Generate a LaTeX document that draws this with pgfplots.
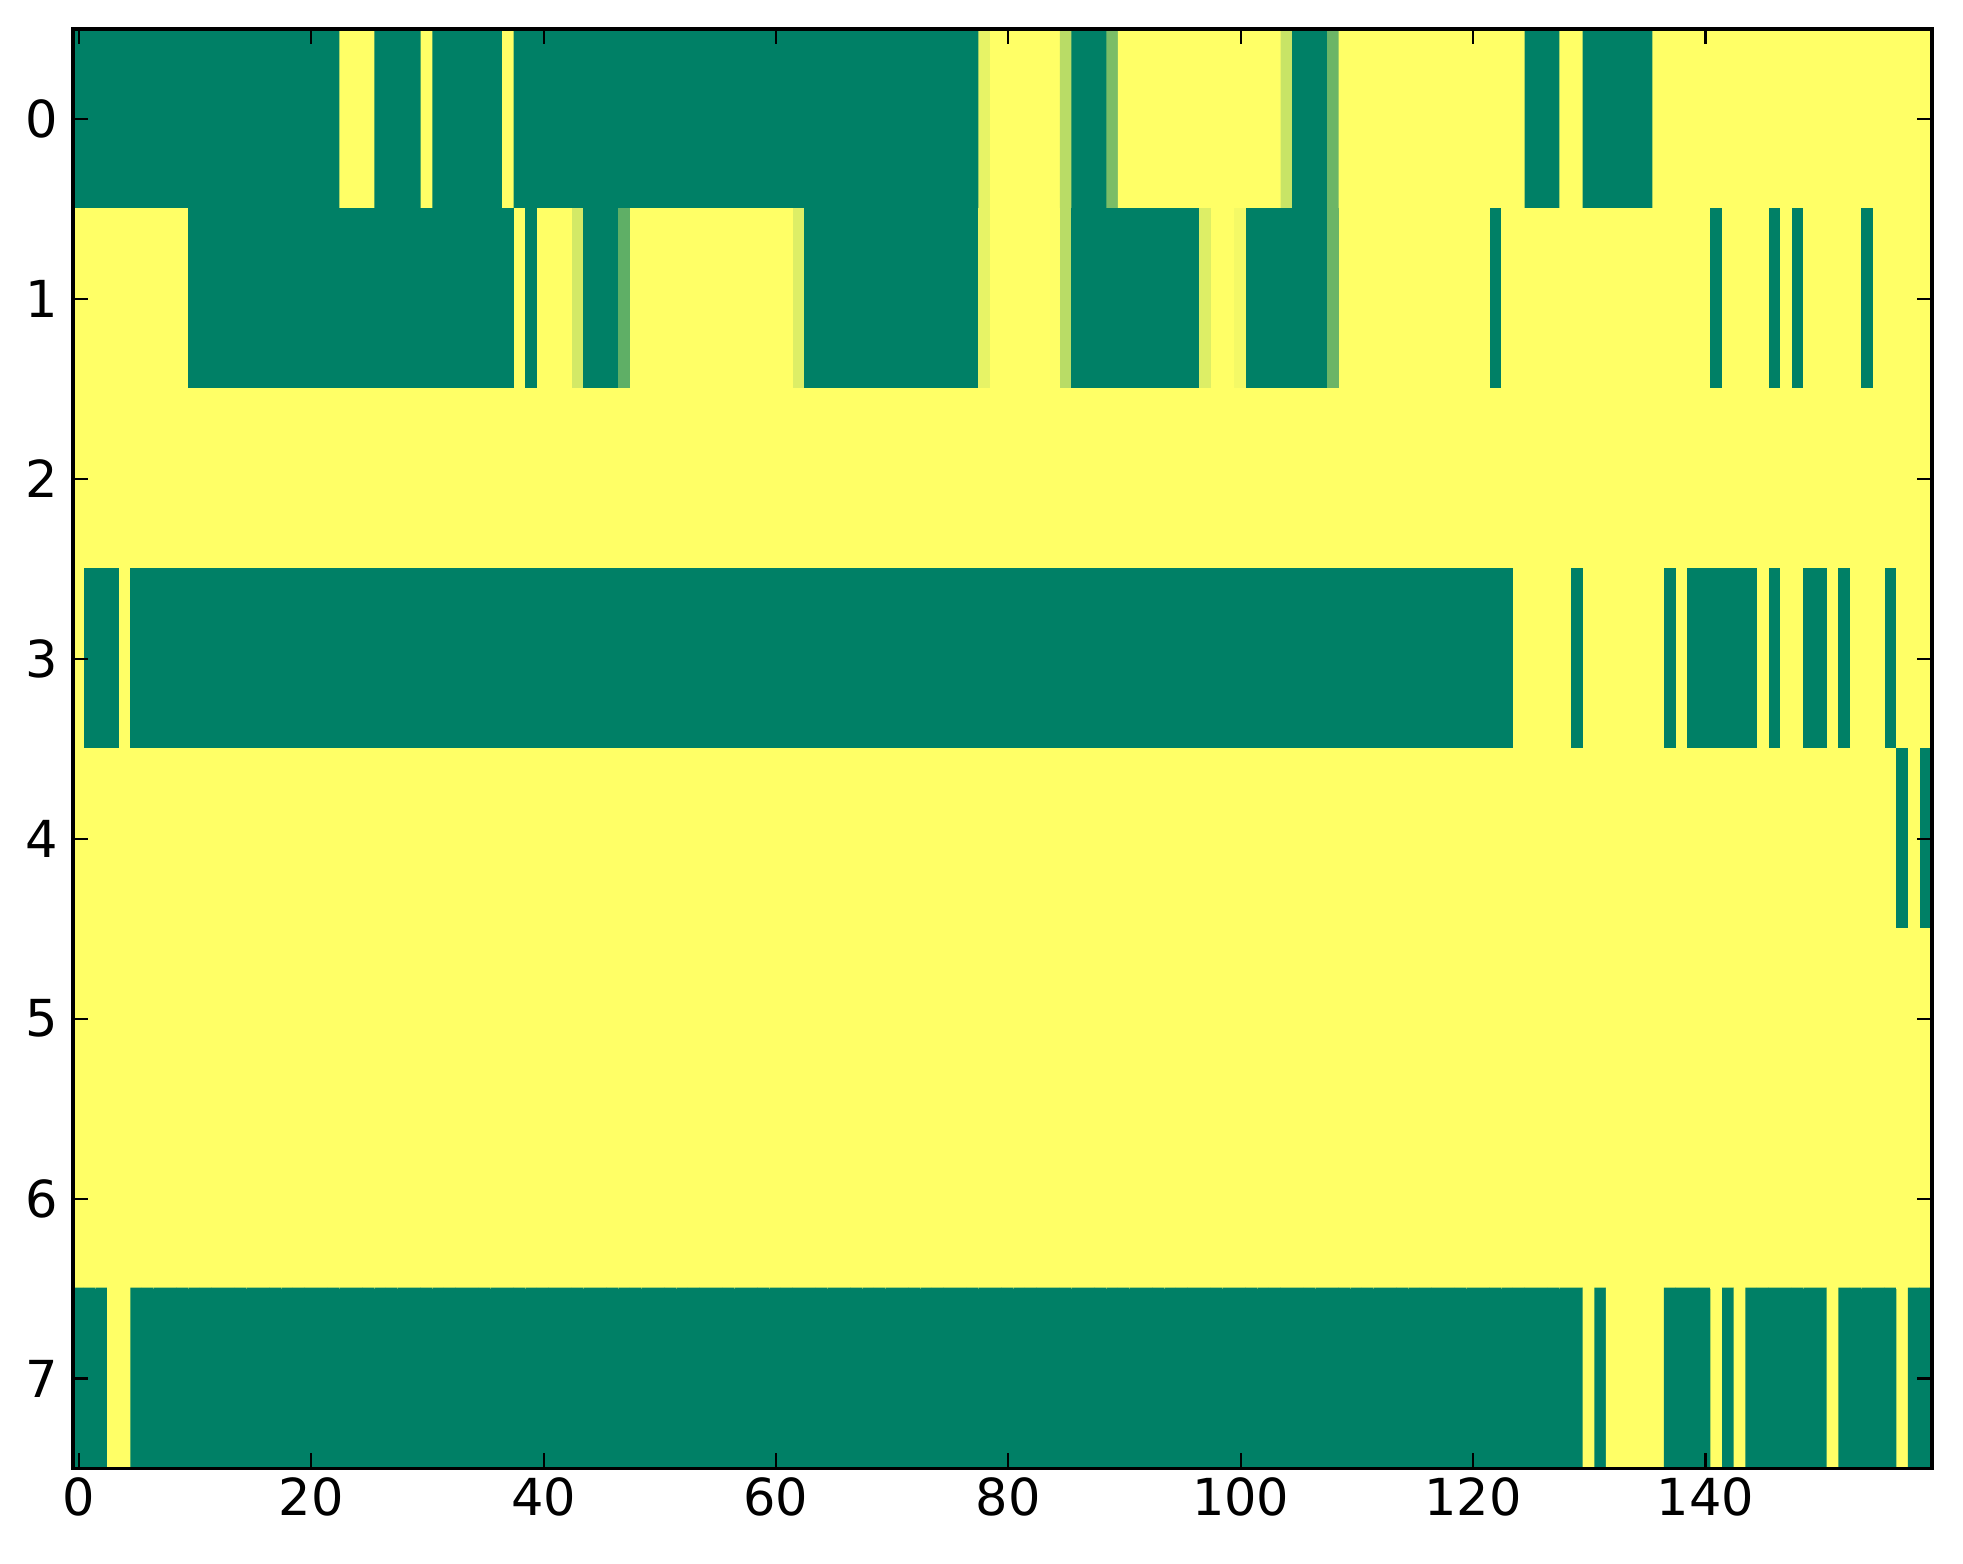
\documentclass[border=0pt]{standalone}
\usepackage{fontspec}
\setmainfont{DejaVu Sans}
\usepackage{pgfplots}
\pgfplotsset{compat=1.18}
\begin{document}
\begin{tikzpicture}
\begin{axis}[
  scale only axis,
  width=437.4pt, height=338.7pt,
  xmin=-0.5, xmax=159.5, ymin=-0.5, ymax=7.5,
  y dir=reverse,
  enlargelimits=false,
  axis on top,
  xtick={0,20,...,140},
  ytick={0,1,...,7},
  tick align=inside,
  major tick length=3.6pt,
  tick style={black, line width=0.5pt},
  axis line style={line width=0.8pt},
  tick label style={font=\fontsize{12}{14}\selectfont},
  xticklabel style={yshift=1.5pt},
  /pgf/number format/assume math mode=true,
  colormap={summer}{rgb=(0,0.5,0.4) rgb=(1,1,0.4)},
  point meta min=0, point meta max=1,
]
\addplot[matrix plot*, mesh/cols=160, mesh/rows=8, point meta=explicit]
  table[row sep=\\, x expr={mod(\coordindex,160)}, y expr={floor(\coordindex/160)}, meta=c] {
c\\
0\\0\\0\\0\\0\\0\\0\\0\\0\\0\\ 0\\0\\0\\0\\0\\0\\0\\0\\0\\0\\
0\\0\\0\\1\\1\\1\\0\\0\\0\\0\\ 1\\0\\0\\0\\0\\0\\0\\1\\0\\0\\
0\\0\\0\\0\\0\\0\\0\\0\\0\\0\\ 0\\0\\0\\0\\0\\0\\0\\0\\0\\0\\
0\\0\\0\\0\\0\\0\\0\\0\\0\\0\\ 0\\0\\0\\0\\0\\0\\0\\0\\0.9\\1\\
1\\1\\1\\1\\1\\0.72\\0\\0\\0\\0.48\\ 1\\1\\1\\1\\1\\1\\1\\1\\1\\1\\
1\\1\\1\\1\\0.78\\0\\0\\0\\0.42\\1\\ 1\\1\\1\\1\\1\\1\\1\\1\\1\\1\\
1\\1\\1\\1\\1\\0\\0\\0\\1\\1\\ 0\\0\\0\\0\\0\\0\\1\\1\\1\\1\\
1\\1\\1\\1\\1\\1\\1\\1\\1\\1\\ 1\\1\\1\\1\\1\\1\\1\\1\\1\\1\\
1\\1\\1\\1\\1\\1\\1\\1\\1\\1\\ 0\\0\\0\\0\\0\\0\\0\\0\\0\\0\\
0\\0\\0\\0\\0\\0\\0\\0\\0\\0\\ 0\\0\\0\\0\\0\\0\\0\\0\\1\\0\\
1\\1\\1\\0.82\\0\\0\\0\\0.37\\1\\1\\ 1\\1\\1\\1\\1\\1\\1\\1\\1\\1\\
1\\1\\0.86\\0\\0\\0\\0\\0\\0\\0\\ 0\\0\\0\\0\\0\\0\\0\\0\\0.9\\1\\
1\\1\\1\\1\\1\\0.72\\0\\0\\0\\0\\ 0\\0\\0\\0\\0\\0\\0\\0.86\\1\\1\\
0.95\\0\\0\\0\\0\\0\\0\\0\\0.42\\1\\ 1\\1\\1\\1\\1\\1\\1\\1\\1\\1\\
1\\1\\0\\1\\1\\1\\1\\1\\1\\1\\ 1\\1\\1\\1\\1\\1\\1\\1\\1\\1\\
1\\0\\1\\1\\1\\1\\0\\1\\0\\1\\ 1\\1\\1\\1\\0\\1\\1\\1\\1\\1\\
1\\1\\1\\1\\1\\1\\1\\1\\1\\1\\ 1\\1\\1\\1\\1\\1\\1\\1\\1\\1\\
1\\1\\1\\1\\1\\1\\1\\1\\1\\1\\ 1\\1\\1\\1\\1\\1\\1\\1\\1\\1\\
1\\1\\1\\1\\1\\1\\1\\1\\1\\1\\ 1\\1\\1\\1\\1\\1\\1\\1\\1\\1\\
1\\1\\1\\1\\1\\1\\1\\1\\1\\1\\ 1\\1\\1\\1\\1\\1\\1\\1\\1\\1\\
1\\1\\1\\1\\1\\1\\1\\1\\1\\1\\ 1\\1\\1\\1\\1\\1\\1\\1\\1\\1\\
1\\1\\1\\1\\1\\1\\1\\1\\1\\1\\ 1\\1\\1\\1\\1\\1\\1\\1\\1\\1\\
1\\1\\1\\1\\1\\1\\1\\1\\1\\1\\ 1\\1\\1\\1\\1\\1\\1\\1\\1\\1\\
1\\1\\1\\1\\1\\1\\1\\1\\1\\1\\ 1\\1\\1\\1\\1\\1\\1\\1\\1\\1\\
1\\0\\0\\0\\1\\0\\0\\0\\0\\0\\ 0\\0\\0\\0\\0\\0\\0\\0\\0\\0\\
0\\0\\0\\0\\0\\0\\0\\0\\0\\0\\ 0\\0\\0\\0\\0\\0\\0\\0\\0\\0\\
0\\0\\0\\0\\0\\0\\0\\0\\0\\0\\ 0\\0\\0\\0\\0\\0\\0\\0\\0\\0\\
0\\0\\0\\0\\0\\0\\0\\0\\0\\0\\ 0\\0\\0\\0\\0\\0\\0\\0\\0\\0\\
0\\0\\0\\0\\0\\0\\0\\0\\0\\0\\ 0\\0\\0\\0\\0\\0\\0\\0\\0\\0\\
0\\0\\0\\0\\0\\0\\0\\0\\0\\0\\ 0\\0\\0\\0\\0\\0\\0\\0\\0\\0\\
0\\0\\0\\0\\1\\1\\1\\1\\1\\0\\ 1\\1\\1\\1\\1\\1\\1\\0\\1\\0\\
0\\0\\0\\0\\0\\1\\0\\1\\1\\0\\ 0\\1\\0\\1\\1\\1\\0\\1\\1\\1\\
1\\1\\1\\1\\1\\1\\1\\1\\1\\1\\ 1\\1\\1\\1\\1\\1\\1\\1\\1\\1\\
1\\1\\1\\1\\1\\1\\1\\1\\1\\1\\ 1\\1\\1\\1\\1\\1\\1\\1\\1\\1\\
1\\1\\1\\1\\1\\1\\1\\1\\1\\1\\ 1\\1\\1\\1\\1\\1\\1\\1\\1\\1\\
1\\1\\1\\1\\1\\1\\1\\1\\1\\1\\ 1\\1\\1\\1\\1\\1\\1\\1\\1\\1\\
1\\1\\1\\1\\1\\1\\1\\1\\1\\1\\ 1\\1\\1\\1\\1\\1\\1\\1\\1\\1\\
1\\1\\1\\1\\1\\1\\1\\1\\1\\1\\ 1\\1\\1\\1\\1\\1\\1\\1\\1\\1\\
1\\1\\1\\1\\1\\1\\1\\1\\1\\1\\ 1\\1\\1\\1\\1\\1\\1\\1\\1\\1\\
1\\1\\1\\1\\1\\1\\1\\1\\1\\1\\ 1\\1\\1\\1\\1\\1\\1\\0\\1\\0\\
1\\1\\1\\1\\1\\1\\1\\1\\1\\1\\ 1\\1\\1\\1\\1\\1\\1\\1\\1\\1\\
1\\1\\1\\1\\1\\1\\1\\1\\1\\1\\ 1\\1\\1\\1\\1\\1\\1\\1\\1\\1\\
1\\1\\1\\1\\1\\1\\1\\1\\1\\1\\ 1\\1\\1\\1\\1\\1\\1\\1\\1\\1\\
1\\1\\1\\1\\1\\1\\1\\1\\1\\1\\ 1\\1\\1\\1\\1\\1\\1\\1\\1\\1\\
1\\1\\1\\1\\1\\1\\1\\1\\1\\1\\ 1\\1\\1\\1\\1\\1\\1\\1\\1\\1\\
1\\1\\1\\1\\1\\1\\1\\1\\1\\1\\ 1\\1\\1\\1\\1\\1\\1\\1\\1\\1\\
1\\1\\1\\1\\1\\1\\1\\1\\1\\1\\ 1\\1\\1\\1\\1\\1\\1\\1\\1\\1\\
1\\1\\1\\1\\1\\1\\1\\1\\1\\1\\ 1\\1\\1\\1\\1\\1\\1\\1\\1\\1\\
1\\1\\1\\1\\1\\1\\1\\1\\1\\1\\ 1\\1\\1\\1\\1\\1\\1\\1\\1\\1\\
1\\1\\1\\1\\1\\1\\1\\1\\1\\1\\ 1\\1\\1\\1\\1\\1\\1\\1\\1\\1\\
1\\1\\1\\1\\1\\1\\1\\1\\1\\1\\ 1\\1\\1\\1\\1\\1\\1\\1\\1\\1\\
1\\1\\1\\1\\1\\1\\1\\1\\1\\1\\ 1\\1\\1\\1\\1\\1\\1\\1\\1\\1\\
1\\1\\1\\1\\1\\1\\1\\1\\1\\1\\ 1\\1\\1\\1\\1\\1\\1\\1\\1\\1\\
1\\1\\1\\1\\1\\1\\1\\1\\1\\1\\ 1\\1\\1\\1\\1\\1\\1\\1\\1\\1\\
1\\1\\1\\1\\1\\1\\1\\1\\1\\1\\ 1\\1\\1\\1\\1\\1\\1\\1\\1\\1\\
1\\1\\1\\1\\1\\1\\1\\1\\1\\1\\ 1\\1\\1\\1\\1\\1\\1\\1\\1\\1\\
0\\0\\0\\1\\1\\0\\0\\0\\0\\0\\ 0\\0\\0\\0\\0\\0\\0\\0\\0\\0\\
0\\0\\0\\0\\0\\0\\0\\0\\0\\0\\ 0\\0\\0\\0\\0\\0\\0\\0\\0\\0\\
0\\0\\0\\0\\0\\0\\0\\0\\0\\0\\ 0\\0\\0\\0\\0\\0\\0\\0\\0\\0\\
0\\0\\0\\0\\0\\0\\0\\0\\0\\0\\ 0\\0\\0\\0\\0\\0\\0\\0\\0\\0\\
0\\0\\0\\0\\0\\0\\0\\0\\0\\0\\ 0\\0\\0\\0\\0\\0\\0\\0\\0\\0\\
0\\0\\0\\0\\0\\0\\0\\0\\0\\0\\ 0\\0\\0\\0\\0\\0\\0\\0\\0\\0\\
0\\0\\0\\0\\0\\0\\0\\0\\0\\0\\ 1\\0\\1\\1\\1\\1\\1\\0\\0\\0\\
0\\1\\0\\1\\0\\0\\0\\0\\0\\0\\ 0\\1\\0\\0\\0\\0\\0\\1\\0\\0\\
};
\end{axis}
\pgfresetboundingbox
\path[use as bounding box] ([shift={(-17.18pt,-22.47pt)}]current axis.south west) rectangle ([shift={(7.29pt,6.82pt)}]current axis.north east);
\end{tikzpicture}
\end{document}
